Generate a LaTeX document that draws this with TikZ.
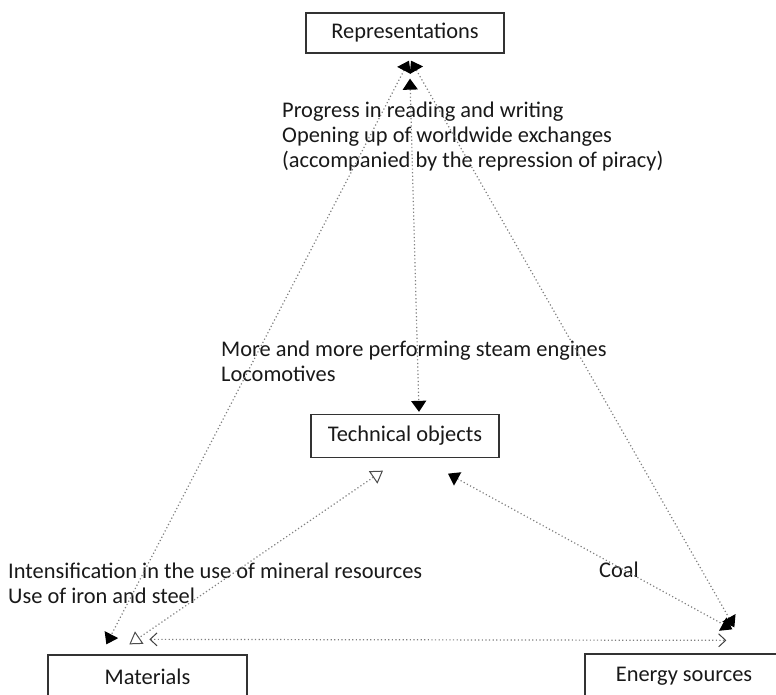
\documentclass[tikz,border=0pt]{standalone}
\usepackage{fontspec}
\setmainfont{Carlito}
\usepackage{tikz}
\usetikzlibrary{arrows.meta}

\begin{document}
\begin{tikzpicture}[x=1pt,y=-1pt,
    link/.style={line width=1.2pt,draw=black!50,dash pattern=on 1.2pt off 2.4pt},
    solid head/.style={link,{Triangle[width=15pt,length=11pt,black]}-{Triangle[width=15pt,length=11pt,black]}},
    open head/.style={link,{Triangle[open,width=15pt,length=12pt,line width=1pt,black!70]}-{Triangle[open,width=15pt,length=12pt,line width=1pt,black!70]}},
    barb head/.style={link,{Straight Barb[width=13pt,length=7pt,line width=1pt,black!75]}-{Straight Barb[width=13pt,length=7pt,line width=1pt,black!75]}},
    box/.style={draw=black!80,line width=1.3pt,fill=white,inner sep=0pt,
      text=black!90,font=\fontsize{22.4}{25}\selectfont},
    note/.style={anchor=base west,align=left,inner sep=0pt,
      text=black!90,font=\fontsize{22.4}{25}\selectfont}
  ]
    \useasboundingbox (0,0) rectangle (776,694);

    % the four poles
    \node[box,minimum width=198pt,minimum height=40pt] (rep) at (405,33) {Representations};
    \node[box,minimum width=188pt,minimum height=43pt] (tech) at (405,436) {Technical objects};
    \node[box,minimum width=199pt,minimum height=44pt] (mat) at (147.5,677) {Materials};
    \node[box,minimum width=198pt,minimum height=44pt] (energy) at (684,676) {Energy sources};

    % what links them (base = last line)
    \node[note] (reading) at (282,167) {Progress in reading and writing\\Opening up of worldwide exchanges\\(accompanied by the repression of piracy)};
    \node[note] (steam) at (221,381) {More and more performing steam engines\\Locomotives};
    \node[note] (mineral) at (8,603) {Intensification in the use of mineral resources\\Use of iron and steel};
    \node[note] (coal) at (599,577) {Coal};

    \draw[solid head] ([shift={(5,25)}]rep.south) -- ([shift={(14,-2)}]tech.north);
    \draw[solid head] ([shift={(4,7)}]rep.south) -- ([shift={(59,-10)}]mat.north west);
    \draw[solid head] ([shift={(6,7)}]rep.south) -- ([shift={(150,-26)}]energy.north west);
    \draw[open head] ([shift={(-22,12.5)}]tech.south) -- ([shift={(82,-10)}]mat.north west);
    \draw[solid head] ([shift={(43,15.5)}]tech.south) -- ([shift={(148,-24)}]energy.north west);
    \draw[barb head] ([shift={(102,-15)}]mat.north west) -- ([shift={(142,-13)}]energy.north west);
  \end{tikzpicture}
\end{document}
